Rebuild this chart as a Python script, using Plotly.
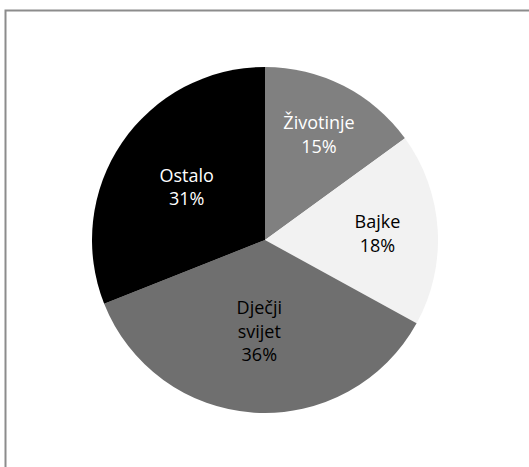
import plotly.graph_objects as go

labels = ["Životinje", "Bajke", "Dječji<br>svijet", "Ostalo"]
values = [15, 18, 36, 31]
colors = ["#808080", "#f2f2f2", "#6f6f6f", "#000000"]
text_colors = ["#ffffff", "#000000", "#000000", "#ffffff"]

W, H = 529, 467
cx, cy, r = 265, 240, 173

fig = go.Figure(go.Pie(
    labels=labels,
    values=values,
    sort=False,
    direction="clockwise",
    rotation=0,
    marker=dict(colors=colors, line=dict(width=0)),
    texttemplate="%{label}<br>%{value}%",
    textposition="inside",
    insidetextorientation="horizontal",
    insidetextfont=dict(family="Open Sans, Liberation Sans, sans-serif", size=18, color=text_colors),
    hoverinfo="label+percent",
    showlegend=False,
    domain=dict(x=[(cx - r) / W, (cx + r) / W], y=[(H - cy - r) / H, (H - cy + r) / H]),
))

fig.update_layout(
    width=W, height=H,
    margin=dict(l=0, r=0, t=0, b=0),
    paper_bgcolor="white",
    plot_bgcolor="white",
    uniformtext=dict(minsize=18, mode="show"),
    shapes=[dict(type="rect", xref="paper", yref="paper",
                 x0=5.5 / W, x1=1.2, y0=-0.2, y1=(H - 10.5) / H,
                 line=dict(color="#8c8c8c", width=2), fillcolor="rgba(0,0,0,0)", layer="below")],
)

fig.write_html("out.html")
